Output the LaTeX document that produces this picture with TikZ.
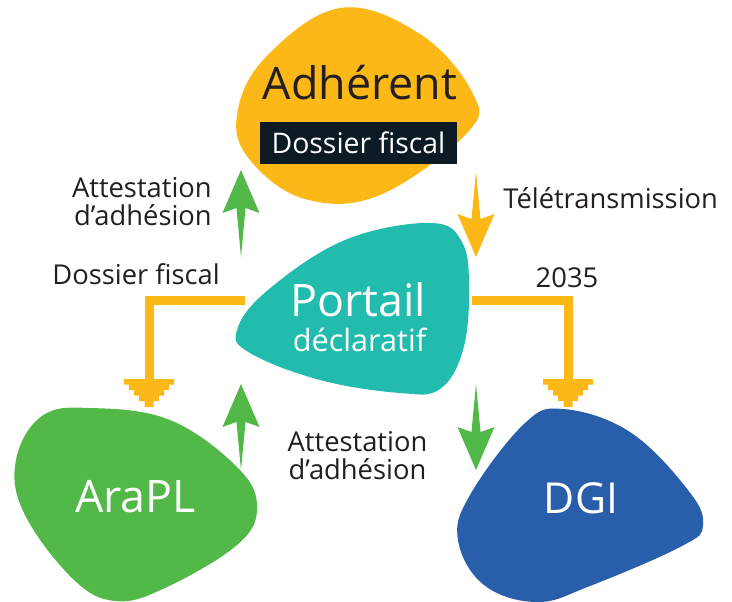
\documentclass[tikz,border=0pt]{standalone}
\usepackage{fontspec}
\setmainfont{Open Sans}
\usepackage{tikz}
\usetikzlibrary{calc}

\definecolor{adhcol}{HTML}{FBB817}
\definecolor{portcol}{HTML}{22BCAE}
\definecolor{aracol}{HTML}{52B848}
\definecolor{dgicol}{HTML}{285EAA}
\definecolor{boxcol}{HTML}{0C1A24}
\definecolor{txtcol}{HTML}{231F20}

% tapered arrow: colour, tail, tip
\newcommand{\flowarrow}[3]{%
  \fill[#1] (#3) -- ($(#3)!35.1pt!23.3:(#2)$) -- ($(#3)!28.7pt!6.8:(#2)$) -- (#2)
    -- ($(#3)!28.7pt!-6.8:(#2)$) -- ($(#3)!35.1pt!-23.3:(#2)$) -- cycle;}
% stepped arrow head below a coordinate
\newcommand{\stairhead}[1]{%
  \fill[adhcol] ($(#1)+(-25,0)$) -- ++(50,0) -- ++(0,5.5) -- ++(-5,0) -- ++(0,5.5)
    -- ++(-5,0) -- ++(0,5.5) -- ++(-5,0) -- ++(0,5.5) -- ++(-5.5,0) -- ++(0,6)
    -- ++(-9,0) -- ++(0,-6) -- ++(-5.5,0) -- ++(0,-5.5) -- ++(-5,0) -- ++(0,-5.5)
    -- ++(-5,0) -- ++(0,-5.5) -- ++(-5,0) -- cycle;}

\tikzset{
  big/.style={inner sep=0pt, anchor=base, font=\fontsize{33.6}{38}\selectfont},
  label/.style={inner sep=0pt, text=txtcol, font=\fontsize{20.5}{21}\selectfont},
  feed/.style={draw=adhcol, line width=6.75pt, line join=miter},
  blob/.style={smooth cycle, tension=0.65}
}

\begin{document}
\begin{tikzpicture}[x=0.75pt, y=-0.75pt]
  \useasboundingbox (0,0) rectangle (732,602);

  % The blobs
  \fill[adhcol] plot[blob] coordinates {(340,8) (420,34) (472,92) (468,132)
    (380,195) (305,199) (250,160) (237,115) (265,58)};
  \fill[portcol] plot[blob] coordinates {(430,223) (462,242) (469,290) (463,350)
    (440,389) (400,393) (320,380) (250,353) (237,330) (268,290) (345,240)};
  \fill[aracol] plot[blob] coordinates {(90,408) (170,420) (238,468) (257,508)
    (237,545) (165,588) (115,601) (72,578) (24,513) (16,460) (42,416)};
  \fill[dgicol] plot[blob] coordinates {(563,409) (630,432) (688,490) (703,525)
    (682,546) (590,586) (537,602) (484,585) (458,540) (470,495) (524,424)};

  % Texts in the blobs
  \node[big, text=txtcol] (adh) at (360,100) {Adhérent};
  \node[fill=boxcol, text=white, inner sep=0pt,
        minimum width=147.75pt, minimum height=31.5pt,
        font=\fontsize{21.3}{24}\selectfont] (dossier) at (358.5,143) {Dossier fiscal};
  \node[big, text=white] (portail) at (358,317) {Portail};
  \node[inner sep=0pt, anchor=base, text=white, font=\fontsize{23}{26}\selectfont]
    (decl) at (359.5,352) {déclaratif};
  \node[big, text=white] (arapl) at (135.5,512) {AraPL};
  \node[big, text=white, font=\fontsize{32}{36}\selectfont] (dgi) at (581,513) {DGI};

  % Connector end points
  \coordinate (up1t) at (241,257);  \coordinate (up1h) at (241,170);
  \coordinate (dn1t) at (476,172);  \coordinate (dn1h) at (476,257);
  \coordinate (up2t) at (241,470);  \coordinate (up2h) at (241,384);
  \coordinate (dn2t) at (476,384);  \coordinate (dn2h) at (476,470);
  \coordinate (lfeed) at (245,300.5); \coordinate (lhead) at (149,379);
  \coordinate (rfeed) at (472,300.5); \coordinate (rhead) at (568,379);

  % The arrows
  \flowarrow{aracol}{up1t}{up1h}
  \flowarrow{adhcol}{dn1t}{dn1h}
  \flowarrow{aracol}{up2t}{up2h}
  \flowarrow{aracol}{dn2t}{dn2h}
  \draw[feed] (lfeed) -| (lhead);
  \draw[feed] (rfeed) -| (rhead);
  \stairhead{lhead}
  \stairhead{rhead}

  % Labels
  \node[label, anchor=north east, align=right] (att1) at (212,177)
    {Attestation\\d’adhésion};
  \node[label, anchor=base east] (dos) at (220,285) {Dossier fiscal};
  \node[label, anchor=base west] (tele) at (503,209) {Télétransmission};
  \node[label, anchor=base] (num) at (567,288) {2035};
  \node[label, anchor=north, align=center] (att2) at (357.5,431)
    {Attestation\\d’adhésion};
\end{tikzpicture}
\end{document}
